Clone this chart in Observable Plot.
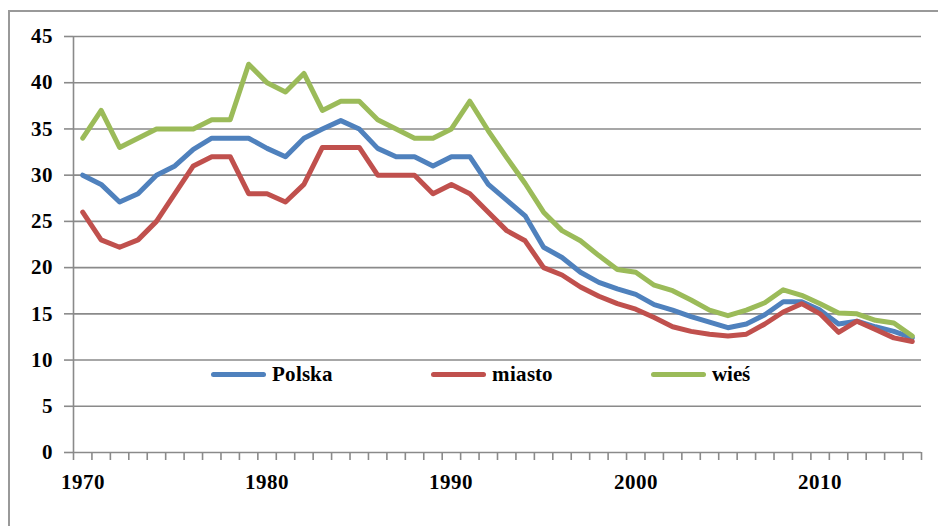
<!DOCTYPE html>
<html>
<head>
<meta charset="utf-8">
<script src="https://cdn.jsdelivr.net/npm/d3@7"></script>
<script src="https://cdn.jsdelivr.net/npm/@observablehq/plot@0.6"></script>
<style>
  @font-face { font-family: "LSerifB"; src: local("Liberation Serif Bold"), local("LiberationSerif-Bold"); font-weight: 100 900; font-display: swap; }
  html, body { margin: 0; padding: 0; background: #fff; overflow: hidden; }
  #wrap { position: relative; width: 938px; height: 526px; }
  #frame { position: absolute; left: 8px; top: 10px; width: 1000px; height: 600px; border: 2px solid #999; box-sizing: border-box; pointer-events: none; }
  #legend { position: absolute; left: 211px; top: 360px; display: flex; font-family: "LSerifB", 'Liberation Serif', 'DejaVu Serif', serif; font-weight: bold; font-size: 21px; color: #000; }
  .item { width: 220px; display: flex; align-items: center; height: 28px; }
  .swatch { width: 55px; height: 5px; border-radius: 3px; margin-right: 6px; }
  #chart svg text { font-family: "LSerifB", 'Liberation Serif', 'DejaVu Serif', serif; font-weight: bold; font-size: 21px; fill: #000; }
</style>
</head>
<body>
<div id="wrap">
  <div id="chart"></div>
  <div id="frame"></div>
  <div id="legend"></div>
</div>
<script>
const years = [1970,1971,1972,1973,1974,1975,1976,1977,1978,1979,
               1980,1981,1982,1983,1984,1985,1986,1987,1988,1989,
               1990,1991,1992,1993,1994,1995,1996,1997,1998,1999,
               2000,2001,2002,2003,2004,2005,2006,2007,2008,2009,
               2010,2011,2012,2013,2014,2015];
const polska = [30,29,27.1,28,30,31,32.8,34,34,34,
                32.9,32,34,35,35.9,35,32.9,32,32,31,
                32,32,29,27.3,25.6,22.2,21.1,19.5,18.4,17.7,
                17.1,16.0,15.4,14.7,14.1,13.5,13.9,14.9,16.3,16.3,
                15.4,13.9,14.2,13.6,13.1,12.4];
const miasto = [26,23,22.2,23,25,28,31,32,32,28,
                28,27.1,29,33,33,33,30,30,30,28,
                29,28,26.0,24.0,22.9,20,19.2,17.9,16.9,16.1,
                15.5,14.6,13.6,13.1,12.8,12.6,12.8,13.9,15.2,16.1,
                15.0,13,14.2,13.3,12.4,12.0];
const wies = [34,37,33,34,35,35,35,36,36,42,
              40,39,41,37,38,38,36,35,34,34,
              35,38,34.8,31.9,29.1,26,24,22.9,21.3,19.8,
              19.5,18.1,17.5,16.5,15.4,14.8,15.4,16.2,17.6,17,
              16.1,15.1,15.0,14.3,14,12.6];
const seriesNames = ["Polska", "miasto", "wieś"];
const seriesColors = ["#4F81BD", "#C0504D", "#9BBB59"];
const yTicks = [0,5,10,15,20,25,30,35,40,45];
const xLabelYears = [1970,1980,1990,2000,2010];

const seriesValues = [polska, miasto, wies];
const data = [];
seriesNames.forEach((name, s) => {
  years.forEach((yr, i) => data.push({series: name, year: yr, value: seriesValues[s][i]}));
});
const boundaries = years.map(y => y - 0.5).concat([years[years.length - 1] + 0.5]);
const grid = "#8a8a8a";

const chart = Plot.plot({
  width: 938,
  height: 526,
  marginLeft: 73,
  marginRight: 17,
  marginTop: 36,
  marginBottom: 74,
  style: {fontFamily: "LSerifB, 'Liberation Serif', 'DejaVu Serif', serif", fontSize: "21px", fontWeight: "bold", color: "#000", background: "transparent"},
  x: {domain: [boundaries[0], boundaries[boundaries.length - 1]]},
  y: {domain: [0, 45]},
  color: {domain: seriesNames, range: seriesColors},
  marks: [
    Plot.gridY(yTicks, {stroke: grid, strokeOpacity: 1, strokeWidth: 1.6}),
    Plot.ruleX([boundaries[0]], {y1: 0, y2: 45, stroke: grid, strokeWidth: 1.6}),
    Plot.axisY(yTicks, {tickSize: 9, tickPadding: 12, stroke: grid, strokeWidth: 1.6, label: null, tickFormat: d => String(d)}),
    Plot.axisX(boundaries, {tickSize: 8, tickPadding: 0, stroke: grid, strokeWidth: 1.6, tickFormat: () => "", label: null}),
    Plot.axisX(xLabelYears, {tickSize: 0, tickPadding: 22, tickFormat: d => String(d), label: null}),
    Plot.line(data, {x: "year", y: "value", stroke: "series", z: "series", strokeWidth: 5, strokeLinejoin: "round", strokeLinecap: "round"})
  ]
});
document.getElementById("chart").appendChild(chart);

const legend = document.getElementById("legend");
seriesNames.forEach((name, i) => {
  const item = document.createElement("div");
  item.className = "item";
  const sw = document.createElement("div");
  sw.className = "swatch";
  sw.style.background = seriesColors[i];
  const t = document.createElement("span");
  t.textContent = name;
  item.appendChild(sw);
  item.appendChild(t);
  legend.appendChild(item);
});
</script>
</body>
</html>
